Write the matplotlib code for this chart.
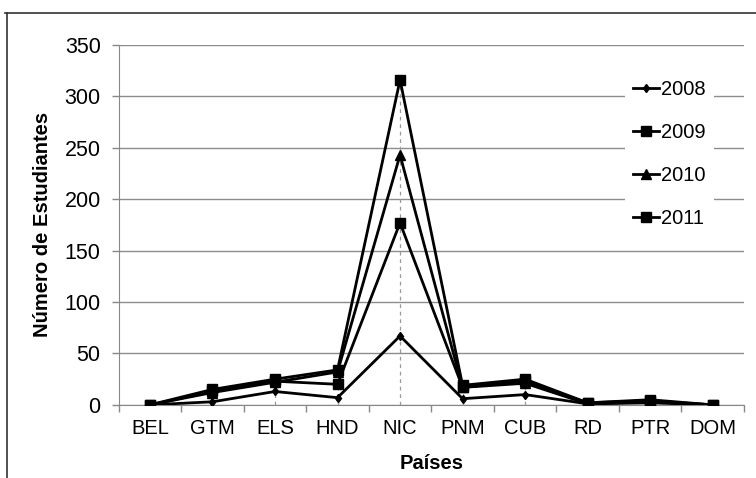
import matplotlib.pyplot as plt
import numpy as np

plt.rcParams['font.family'] = ['Liberation Sans', 'DejaVu Sans']

paises = ['BEL', 'GTM', 'ELS', 'HND', 'NIC', 'PNM', 'CUB', 'RD', 'PTR', 'DOM']
v2008 = [0, 3, 13, 7, 67, 6, 10, 1, 2, 0]
v2009 = [0, 13, 23, 20, 177, 17, 23, 2, 4, 0]
v2010 = [0, 12, 22, 32, 243, 17, 21, 1, 3, 0]
v2011 = [0, 15, 25, 34, 316, 19, 25, 2, 5, 0]
years = ['2008', '2009', '2010', '2011']

fig = plt.figure(figsize=(7.56, 4.78), dpi=100)
ax = fig.add_axes([0.157, 0.153, 0.827, 0.753])

x = np.arange(len(paises))
series = [v2008, v2009, v2010, v2011]
markers = ['d', 's', '^', 's']
msizes = [4.5, 7.5, 6.5, 7.5]

# drop lines (gray dashed) from the top point down to the axis
tops = np.max(np.array(series), axis=0)
ax.vlines(x, 0, tops, colors='#999999', linestyles=(0, (3, 3)), linewidth=0.9, zorder=1)

for s, yr, m, ms in zip(series, years, markers, msizes):
    ax.plot(x, s, color='black', linewidth=2, marker=m, markersize=ms, label=yr, zorder=3)

ax.set_xlim(-0.5, len(paises) - 0.5)
ax.set_ylim(0, 350)
ax.set_yticks(np.arange(0, 351, 50))
ax.set_xticks(x)
ax.set_xticklabels(paises, fontsize=14.5)
ax.tick_params(axis='y', labelsize=15.5, length=5, color='#888888', width=1, pad=8)
ax.tick_params(axis='x', length=0, pad=10)
# minor ticks between categories
ax.set_xticks(np.arange(-0.5, len(paises), 1), minor=True)
ax.tick_params(axis='x', which='minor', length=5, color='#888888', width=1)

ax.grid(axis='y', color='#8c8c8c', linewidth=1)
ax.set_axisbelow(True)
for sp in ['top', 'right']:
    ax.spines[sp].set_visible(False)
ax.spines['left'].set_color('#888888')
ax.spines['bottom'].set_color('#888888')

ax.set_ylabel('Número de Estudiantes', fontsize=14.5, fontweight='bold', labelpad=9)
ax.set_xlabel('Países', fontsize=14.5, fontweight='bold', labelpad=12)

leg = ax.legend(loc='upper left', bbox_to_anchor=(0.81, 0.925), frameon=True, fancybox=False,
                edgecolor='white', framealpha=1, fontsize=14.5, handlelength=1.3,
                labelspacing=1.2, handletextpad=0.1, borderpad=0.4, borderaxespad=0)
leg.get_frame().set_linewidth(0)

# outer chart frame (top and left edges visible)
fig.add_artist(plt.Line2D([0.007, 1.0], [0.973, 0.973], color='#333333', linewidth=1.2, transform=fig.transFigure))
fig.add_artist(plt.Line2D([0.009, 0.009], [0.0, 0.973], color='#333333', linewidth=1.2, transform=fig.transFigure))

fig.savefig('out.png', dpi=100)
